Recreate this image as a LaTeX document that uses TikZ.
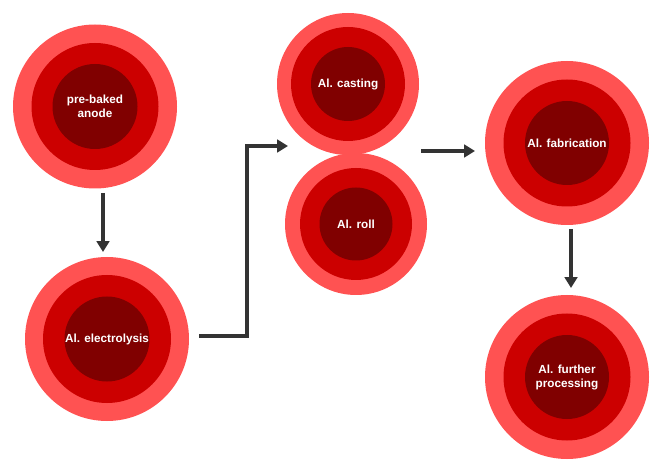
\documentclass[tikz,border=0pt]{standalone}
\usepackage{fontspec}
\setmainfont{Liberation Sans}
\usetikzlibrary{arrows.meta}
\definecolor{ringout}{HTML}{FF5252}
\definecolor{ringmid}{HTML}{CC0000}
\definecolor{ringcore}{HTML}{800000}
\definecolor{linkgray}{HTML}{333333}
\newcommand\ringnode[6]{%
  \node[outring, minimum size=#3*1.5pt] (#1) at (#2) {};
  \node[midring, minimum size=#4*1.5pt] (#1-m) at (#1.center) {};
  \node[corering, minimum size=#5*1.5pt] (#1-c) at (#1.center) {#6};
}
\begin{document}
\begin{tikzpicture}[x=0.75pt,y=-0.75pt,
  outring/.style={circle, fill=ringout, inner sep=0pt, outer sep=0pt},
  midring/.style={circle, fill=ringmid, inner sep=0pt, outer sep=0pt},
  corering/.style={circle, fill=ringcore, inner sep=0pt, outer sep=0pt,
    text=white, align=center, font=\fontsize{8.8pt}{10.5pt}\selectfont\bfseries},
  link/.style={draw=linkgray, line width=2.7pt,
    -{Triangle[width=9.5pt,length=8.2pt]}, fill=none}]
\useasboundingbox (0,0) rectangle (664,470);
\ringnode{anode}{95,106.5}{82}{63.5}{42.5}{pre-baked\\anode}
\ringnode{elec}{107,339}{82}{64}{42.5}{Al. electrolysis}
\ringnode{cast}{348,84}{71}{57}{37}{Al. casting}
\ringnode{roll}{356,224}{71}{56}{36.5}{Al. roll}
\ringnode{fab}{567,143}{82}{63.5}{42}{Al. fabrication}
\ringnode{further}{567,377}{82}{63.5}{42}{Al. further\\processing}
\coordinate (t2) at (288,146);
\coordinate (s3) at (421,151);
\coordinate (t3) at (475,151);
\draw[link] ([shift={(8,4.5)}]anode.south) -- ([shift={(-4,-5)}]elec.north);
\draw[link] ([shift={(10,-3)}]elec.east) -- ++(48,0) |- (t2);
\draw[link] (s3) -- (t3);
\draw[link] ([shift={(4,4)}]fab.south) -- ([shift={(4,-7)}]further.north);
\end{tikzpicture}
\end{document}
